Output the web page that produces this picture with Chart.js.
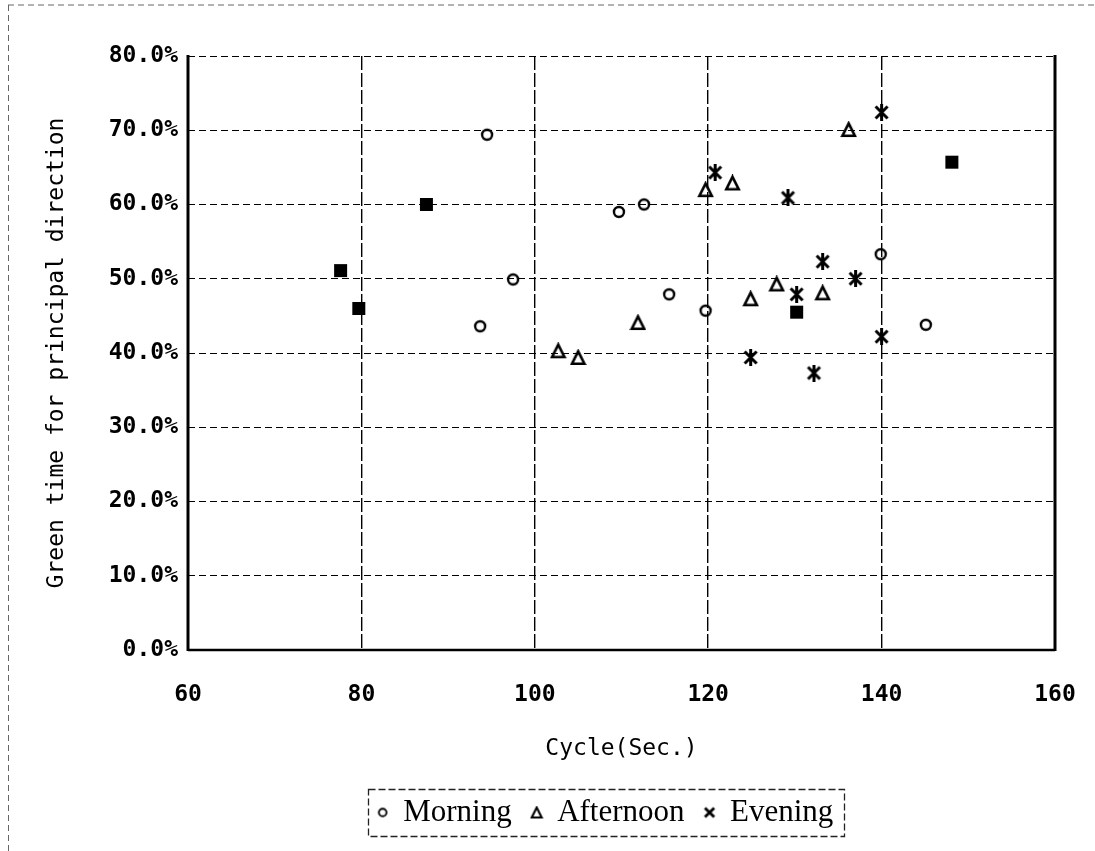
<!DOCTYPE html>
<html>
<head>
<meta charset="utf-8">
<script src="https://cdn.jsdelivr.net/npm/chart.js@4.4.1/dist/chart.umd.min.js"></script>
<style>
  html, body { margin: 0; padding: 0; background: #fff; }
  #c { display: block; }
</style>
</head>
<body>
<canvas id="c" width="1095" height="851"></canvas>
<script>
// Signal cycle length (sec.) and share of green time for the principal direction (%)
const morningCycle   = [94.5, 109.7, 112.6, 97.5, 93.7, 115.5, 119.7, 139.9, 145.1];
const morningGreen   = [69.4, 59.0, 60.0, 49.9, 43.6, 47.9, 45.7, 53.3, 43.8];

const afternoonCycle = [102.7, 105.0, 111.9, 119.7, 122.8, 124.9, 127.9, 133.2, 136.2];
const afternoonGreen = [40.3, 39.4, 44.1, 62.0, 62.9, 47.3, 49.3, 48.1, 70.1];

const eveningCycle   = [120.8, 129.2, 140.0, 133.2, 137.0, 130.2, 124.9, 132.2, 140.0];
const eveningGreen   = [64.3, 60.9, 72.4, 52.3, 50.0, 47.9, 39.4, 37.3, 42.2];

// evening sites where several markers pile up into a solid block
const stackedCycle   = [77.6, 79.7, 87.5, 130.2, 148.1];
const stackedGreen   = [51.1, 46.0, 60.0, 45.5, 65.7];

const seriesNames = ['Morning', 'Afternoon', 'Evening'];
const xTicks = [60, 80, 100, 120, 140, 160];
const yTicks = [0, 10, 20, 30, 40, 50, 60, 70, 80];

function pts(xs, ys) { return xs.map((x, i) => ({ x: x, y: ys[i] })); }

// small canvas glyphs used as point styles
function glyph(size, draw) {
  const c = document.createElement('canvas');
  c.width = size; c.height = size;
  const g = c.getContext('2d');
  g.strokeStyle = '#000'; g.fillStyle = '#000';
  draw(g, size);
  return c;
}
function ringGlyph(size, r, w) {
  return glyph(size, (g, s) => { g.lineWidth = w; g.beginPath(); g.arc(s / 2, s / 2, r, 0, Math.PI * 2); g.stroke(); });
}
function triGlyph(size, w) {
  return glyph(size, (g, s) => {
    g.lineWidth = w; g.lineJoin = 'miter';
    const m = w / 2 + 1;
    g.beginPath(); g.moveTo(s / 2, m); g.lineTo(s - m, s - m); g.lineTo(m, s - m); g.closePath(); g.stroke();
  });
}
function starGlyph(size, w, vert) {
  return glyph(size, (g, s) => {
    g.lineWidth = w; g.lineCap = 'butt';
    const m = w / 2 + 1;
    g.beginPath();
    g.moveTo(m, m); g.lineTo(s - m, s - m);
    g.moveTo(s - m, m); g.lineTo(m, s - m);
    if (vert) { g.moveTo(s / 2, 0); g.lineTo(s / 2, s); }
    g.stroke();
  });
}
function blockGlyph(size) {
  return glyph(size, (g, s) => { g.fillRect(1, 1, s - 2, s - 2); });
}

const ringMark  = ringGlyph(16, 5, 2.4);
const triMark   = triGlyph(17, 2.6);
const starMark  = starGlyph(17, 3, true);
const blockMark = blockGlyph(15);
const legendMarks = [ringGlyph(12, 3.8, 1.9), triGlyph(14, 2.1), starGlyph(14, 2.8, false)];

const tickFont  = { family: '"DejaVu Sans Mono", monospace', size: 23, weight: 'bold' };
const titleFont = { family: '"DejaVu Sans Mono", monospace', size: 23, weight: 'normal' };

// page frame, plot frame, legend frame
const framePlugin = {
  id: 'frame',
  afterLayout(chart) {
    const lg = chart.legend;
    if (lg) { lg.left -= 16; lg.right -= 16; }
  },
  beforeDraw(chart) {
    const g = chart.ctx;
    g.save();
    g.fillStyle = '#fff';
    g.fillRect(0, 0, chart.width, chart.height);
    g.strokeStyle = '#666';
    g.lineWidth = 1;
    g.setLineDash([6, 4]);
    g.beginPath();
    g.moveTo(8, 5); g.lineTo(chart.width, 5);
    g.moveTo(8.5, 5); g.lineTo(8.5, chart.height);
    g.stroke();
    g.restore();
  },
  beforeDatasetsDraw(chart) {
    const a = chart.chartArea;
    const g = chart.ctx;
    g.save();
    g.strokeStyle = '#000';
    g.setLineDash([]);
    g.lineWidth = 3;
    g.beginPath();
    g.moveTo(a.left, a.top - 1); g.lineTo(a.left, a.bottom + 1);
    g.moveTo(a.right, a.top - 1); g.lineTo(a.right, a.bottom + 1);
    g.stroke();
    g.lineWidth = 2.5;
    g.beginPath();
    g.moveTo(a.left, a.bottom); g.lineTo(a.right, a.bottom);
    g.stroke();
    g.restore();
  },
  afterDraw(chart) {
    const lg = chart.legend;
    if (!lg || !lg.legendHitBoxes || !lg.legendHitBoxes.length) return;
    const hb = lg.legendHitBoxes;
    const l = hb[0].left - 10;
    const r = hb[hb.length - 1].left + hb[hb.length - 1].width + 10;
    const t = hb[0].top - 8;
    const b = hb[0].top + hb[0].height + 8;
    const g = chart.ctx;
    g.save();
    g.strokeStyle = '#222';
    g.lineWidth = 1.3;
    g.setLineDash([7, 3]);
    g.strokeRect(Math.round(l) + 0.5, Math.round(t) + 0.5, Math.round(r - l), Math.round(b - t));
    g.restore();
  }
};

new Chart(document.getElementById('c'), {
  type: 'scatter',
  data: {
    datasets: [
      { label: seriesNames[0], data: pts(morningCycle, morningGreen), pointStyle: ringMark, borderColor: '#000', backgroundColor: '#000' },
      { label: seriesNames[1], data: pts(afternoonCycle, afternoonGreen), pointStyle: triMark, borderColor: '#000', backgroundColor: '#000' },
      { label: seriesNames[2], data: pts(eveningCycle, eveningGreen), pointStyle: starMark, borderColor: '#000', backgroundColor: '#000' },
      { label: seriesNames[2] + ' (stacked)', data: pts(stackedCycle, stackedGreen), pointStyle: blockMark, borderColor: '#000', backgroundColor: '#000' }
    ]
  },
  options: {
    responsive: false,
    animation: false,
    layout: { padding: { left: 8, top: 56, right: 40, bottom: 13 } },
    plugins: {
      tooltip: { enabled: false },
      legend: {
        position: 'bottom',
        fullSize: false,
        labels: {
          usePointStyle: true,
          pointStyleWidth: 10,
          padding: 20,
          color: '#000',
          font: { family: '"Liberation Serif", "Times New Roman", serif', size: 31 },
          generateLabels(chart) {
            return seriesNames.map((name, i) => ({
              text: name,
              datasetIndex: i,
              pointStyle: legendMarks[i],
              fillStyle: '#000',
              strokeStyle: '#000',
              lineWidth: 0,
              hidden: false,
              fontColor: '#000'
            }));
          }
        }
      }
    },
    scales: {
      x: {
        type: 'linear',
        min: xTicks[0],
        max: xTicks[xTicks.length - 1],
        afterBuildTicks(scale) { scale.ticks = xTicks.map(v => ({ value: v })); },
        ticks: { color: '#000', font: tickFont, padding: 31, maxRotation: 0 },
        grid: {
          drawTicks: false,
          lineWidth: 1.4,
          color: c => (c.tick && (c.tick.value === xTicks[0] || c.tick.value === xTicks[xTicks.length - 1])) ? 'rgba(0,0,0,0)' : '#000'
        },
        border: { display: false, dash: [14, 3] },
        title: { display: true, text: 'Cycle(Sec.)', color: '#000', font: titleFont, padding: { top: 0, bottom: 14 } },
        afterFit(scale) { scale.height = 127; scale.paddingLeft = 0; scale.paddingRight = 0; }
      },
      y: {
        type: 'linear',
        min: yTicks[0],
        max: yTicks[yTicks.length - 1],
        afterBuildTicks(scale) { scale.ticks = yTicks.map(v => ({ value: v })); },
        ticks: { color: '#000', font: tickFont, padding: 10, callback: v => v.toFixed(1) + '%' },
        grid: {
          drawTicks: false,
          lineWidth: 1,
          color: c => (c.tick && c.tick.value === yTicks[0]) ? 'rgba(0,0,0,0)' : '#000'
        },
        border: { display: false, dash: [7, 4] },
        title: { display: true, text: 'Green time for principal direction', color: '#000', font: titleFont, padding: { top: 35, bottom: 0 } },
        afterFit(scale) { scale.width = 180; }
      }
    }
  },
  plugins: [framePlugin]
});
</script>
</body>
</html>
